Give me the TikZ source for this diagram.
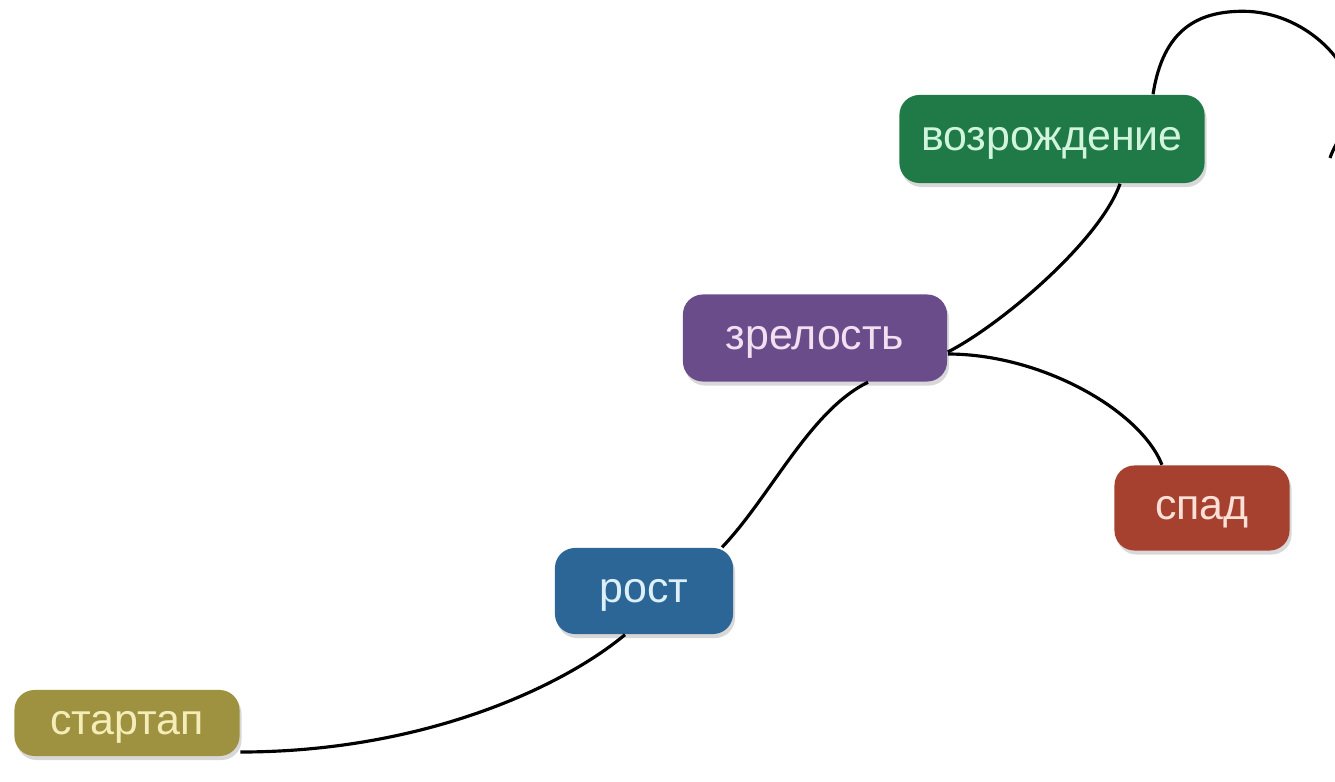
\documentclass[tikz,border=0pt]{standalone}
\usepackage{fontspec}
\setmainfont{Liberation Sans}
\usetikzlibrary{shadows,calc}
\definecolor{cstart}{HTML}{9E913F}
\definecolor{tstart}{HTML}{F5EDB8}
\definecolor{crost}{HTML}{2B6696}
\definecolor{trost}{HTML}{DDF0F8}
\definecolor{czrel}{HTML}{6B4C8B}
\definecolor{tzrel}{HTML}{F2E0F2}
\definecolor{cvoz}{HTML}{1F7A47}
\definecolor{tvoz}{HTML}{D0F5DC}
\definecolor{cspad}{HTML}{A6402F}
\definecolor{tspad}{HTML}{FBE0D8}
\tikzset{
  stage/.style={rounded corners=0.2cm, inner sep=0pt, font=\fontsize{12.2pt}{14pt}\selectfont,
    text depth=0pt, drop shadow={opacity=0.3, shadow xshift=0.02cm, shadow yshift=-0.04cm}},
  link/.style={line width=0.9pt, black}
}
\begin{document}
\begin{tikzpicture}[x=0.01cm,y=-0.01cm]
\useasboundingbox (0,0) rectangle (1335,782);
\fill[white] (0,0) rectangle (1335,782);
\node[stage, fill=cstart, text=tstart, minimum width=2.25cm, minimum height=0.66cm] (s) at (127,723) {стартап};
\node[stage, fill=crost, text=trost, minimum width=1.78cm, minimum height=0.86cm] (r) at (644,591) {рост};
\node[stage, fill=czrel, text=tzrel, minimum width=2.64cm, minimum height=0.87cm] (z) at (815,338) {зрелость};
\node[stage, fill=cvoz, text=tvoz, minimum width=3.05cm, minimum height=0.88cm] (v) at (1052,139) {возрождение};
\node[stage, fill=cspad, text=tspad, minimum width=1.75cm, minimum height=0.85cm] (sp) at (1202,508) {спад};
\coordinate (free) at (1330,158);

\draw[link] ([yshift=-0.29cm]s.east) .. controls +(180,0) and +(-65,54) .. ([xshift=-0.19cm]r.south);
\draw[link] ([xshift=0.78cm]r.north) .. controls +(48,-50) and +(-58,28) .. ([xshift=0.53cm]z.south);
\draw[link] ([yshift=-0.14cm]z.east) .. controls +(53,-27) and +(-20,57) .. ([xshift=0.68cm]v.south);
\draw[link] ([yshift=-0.16cm]z.east) .. controls +(93,0) and +(-22,-55) .. ([xshift=-0.4cm]sp.north);
\draw[link] ([xshift=1.01cm]v.north) .. controls +(10,-65) and +(-45,0) .. ++(90,-83)
  .. controls +(60,0) and +(0,-40) .. ++(110,90)
  .. controls +(0,20) and +(6,-18) .. (free);
\end{tikzpicture}
\end{document}
